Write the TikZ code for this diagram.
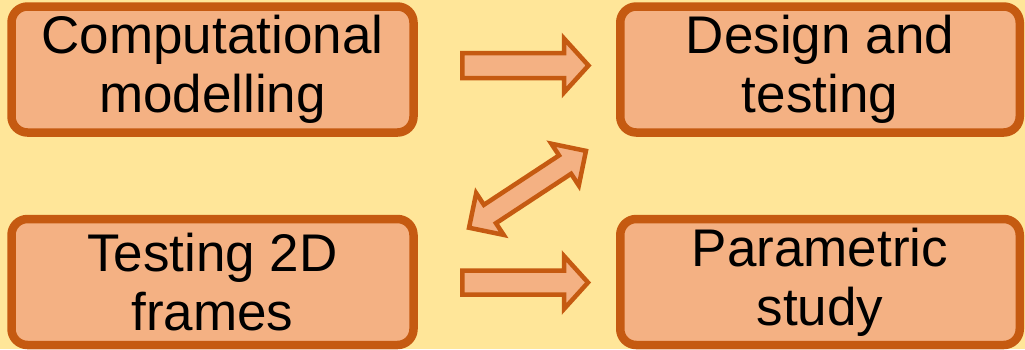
\documentclass[tikz,border=0pt]{standalone}
\usepackage{fontspec}
\setmainfont{Liberation Sans}
\definecolor{bg}{HTML}{FFE699}
\definecolor{boxfill}{HTML}{F4B183}
\definecolor{boxline}{HTML}{C55A11}
\begin{document}
\begin{tikzpicture}[x=1pt,y=-1pt,
  box/.style={draw=boxline, fill=boxfill, line width=8.5pt, rounded corners=16pt,
    minimum height=126pt, inner sep=0pt, align=center,
    font=\fontsize{53}{59}\selectfont},
  blockarrow/.style={draw=boxline, fill=boxfill, line width=4.5pt, line join=miter}]
\useasboundingbox (0,0) rectangle (1025,349);
\fill[bg] (0,0) rectangle (1025,349);
\node[box, minimum width=402pt] (comp) at (212.5,69.5) {Computational\\modelling};
\node[box, minimum width=399.5pt] (design) at (820,69.5) {Design and\\testing};
\node[box, minimum width=402pt] (frames) at (212.5,282) {Testing 2D\\frames};
\node[box, minimum width=399.5pt] (param) at (820,282) {Parametric\\study};
% block arrows
\draw[blockarrow] (462.25,53) -- (564,53) -- (564,38.5) -- (588.5,65.5) -- (564,92.5) -- (564,78) -- (462.25,78) -- cycle;
\draw[blockarrow] (462.25,270.5) -- (564,270.5) -- (564,256) -- (588,282.5) -- (564,309) -- (564,294.5) -- (462.25,294.5) -- cycle;
\draw[blockarrow] (585.95,150.87) -- (551.35,143.71) -- (559.04,155.40) -- (483.88,204.82) -- (476.19,193.13) -- (469.05,227.73) -- (503.65,234.89) -- (495.96,223.20) -- (571.12,173.78) -- (578.81,185.47) -- cycle;
\end{tikzpicture}
\end{document}
